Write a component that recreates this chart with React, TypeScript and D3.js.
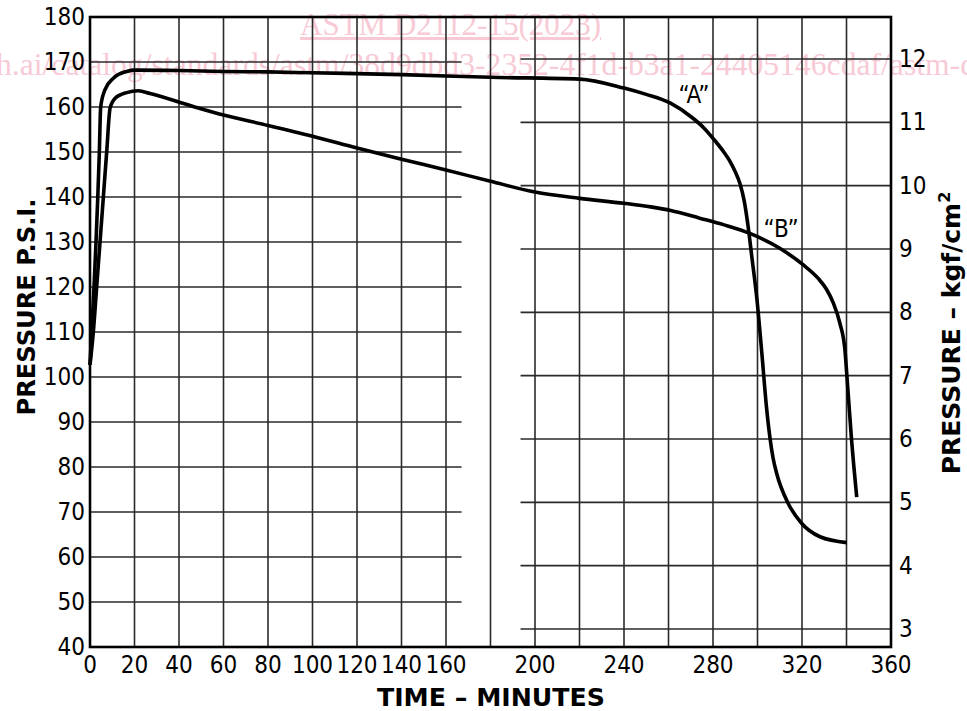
import * as d3 from 'd3';

// time (min) vs pressure (psi)
const curveA: [number, number][] = [
  [0, 102.7], [0.75, 110], [1.8, 120], [2.7, 130], [3.5, 140], [4.2, 150], [4.8, 160],
  [6.7, 163.8], [10.5, 166.4], [16.5, 167.9], [20, 168.2], [40, 168.1], [60, 167.9],
  [80, 167.8], [100, 167.6], [140, 167.2], [180, 166.6], [220, 166.2], [240, 164.2],
  [250, 162.8], [260.7, 160.9], [271, 157.5], [276, 155.3], [280.9, 152.5], [285, 149.9],
  [288, 147.6], [290, 145.6], [292.1, 143], [294, 139.2], [295.8, 133.4], [297.5, 126.5],
  [299.8, 117], [302, 105], [304, 93.5], [305.6, 86.5], [307, 82], [308.6, 78.6],
  [313.8, 71.9], [319.8, 67.5], [328.1, 64.5], [340.1, 63.2],
];

const curveB: [number, number][] = [
  [0, 102.7], [1.5, 110], [3, 120], [4.5, 130], [6, 140], [7.5, 150], [9, 159.7],
  [11.2, 161.9], [16.5, 163.2], [21.7, 163.6], [27, 163], [46.4, 160.1], [60, 158.2],
  [80, 155.9], [100, 153.5], [120, 150.9], [140, 148.4], [160, 146], [180, 143.5],
  [200, 141.1], [220, 139.7], [240, 138.6], [252, 137.8], [261, 137], [274, 135.3],
  [285, 133.8], [296.6, 131.9], [310, 128.6], [320.6, 124.9], [327.3, 121.9], [331, 119.5],
  [334.1, 116.4], [337, 112], [339.3, 106], [340.1, 100.8], [342.2, 86.5], [344.6, 73.3],
];

const psiTicks = [40, 50, 60, 70, 80, 90, 100, 110, 120, 130, 140, 150, 160, 170, 180];
const kgfTicks = [3, 4, 5, 6, 7, 8, 9, 10, 11, 12];
const timeTicks = [0, 20, 40, 60, 80, 100, 120, 140, 160, 200, 240, 280, 320, 360];

const tickFont = "'DejaVu Sans Condensed', 'DejaVu Sans', sans-serif";
const titleFont = "'DejaVu Sans', Verdana, sans-serif";

export default function App() {
  const x = d3.scaleLinear().domain([0, 360]).range([90, 891]);
  const y = d3.scaleLinear().domain([40, 180]).range([647, 17]);
  const yK = d3.scaleLinear().domain([3, 12]).range([629, 59]);

  const line = d3.line<[number, number]>()
    .x(d => x(d[0]))
    .y(d => y(d[1]))
    .curve(d3.curveMonotoneX);

  const gridTimes = d3.range(20, 360, 20);
  const grid = '#2a2a2a';

  return (
    <svg width={967} height={711} style={{ position: 'absolute', left: 0, top: 0, background: '#fff' }}>
      {/* watermark */}
      <g fill="#f7cad5" fontFamily="'Liberation Serif', serif" fontSize={31}>
        <text x={300} y={35} textDecoration="underline">ASTM D2112-15(2023)</text>
        <text x={-4} y={75} textLength={980} lengthAdjust="spacingAndGlyphs">
          h.ai/catalog/standards/astm/38d9dbd3-2352-4f1d-b3a1-24405146cdaf/astm-d
        </text>
      </g>

      {/* grid */}
      <g stroke={grid} strokeWidth={1.6}>
        {gridTimes.map(t => (
          <line key={'v' + t} x1={x(t)} x2={x(t)} y1={y(180)} y2={y(40)} />
        ))}
        {psiTicks.slice(1, -1).map(p => (
          <line key={'h' + p} x1={x(0)} x2={x(167)} y1={y(p)} y2={y(p)} />
        ))}
        {kgfTicks.map(k => (
          <line key={'k' + k} x1={x(193.5)} x2={x(360)} y1={yK(k)} y2={yK(k)} />
        ))}
      </g>
      <rect x={x(0)} y={y(180)} width={x(360) - x(0)} height={y(40) - y(180)}
        fill="none" stroke="#000" strokeWidth={2.6} />

      {/* curves */}
      <path d={line(curveA) || ''} fill="none" stroke="#000" strokeWidth={3.6} strokeLinejoin="round" />
      <path d={line(curveB) || ''} fill="none" stroke="#000" strokeWidth={3.6} strokeLinejoin="round" />

      {/* tick labels */}
      <g fontFamily={tickFont} fontSize={24} fill="#000" style={{ fontStretch: 'condensed' }}>
        {psiTicks.map(p => (
          <text key={p} x={85} y={y(p)} textAnchor="end" dominantBaseline="central">{p}</text>
        ))}
        {kgfTicks.map(k => (
          <text key={k} x={899} y={yK(k)} dominantBaseline="central">{k}</text>
        ))}
        {timeTicks.map(t => (
          <text key={t} x={x(t)} y={673} textAnchor="middle">{t}</text>
        ))}
        <text x={694} y={103} textAnchor="middle">“A”</text>
        <text x={781} y={237} textAnchor="middle">“B”</text>
      </g>

      {/* axis titles */}
      <g fontFamily={titleFont} fontWeight="bold" fontSize={25} fill="#000">
        <text x={491} y={706} textAnchor="middle" textLength={228} lengthAdjust="spacingAndGlyphs">TIME – MINUTES</text>
        <text transform="translate(35,307) rotate(-90)" textAnchor="middle"
          textLength={217} lengthAdjust="spacingAndGlyphs">PRESSURE P.S.I.</text>
        <text transform="translate(960,333) rotate(-90)" textAnchor="middle">
          PRESSURE – kgf/cm<tspan fontSize={16} dy={-10}>2</tspan>
        </text>
      </g>
    </svg>
  );
}
